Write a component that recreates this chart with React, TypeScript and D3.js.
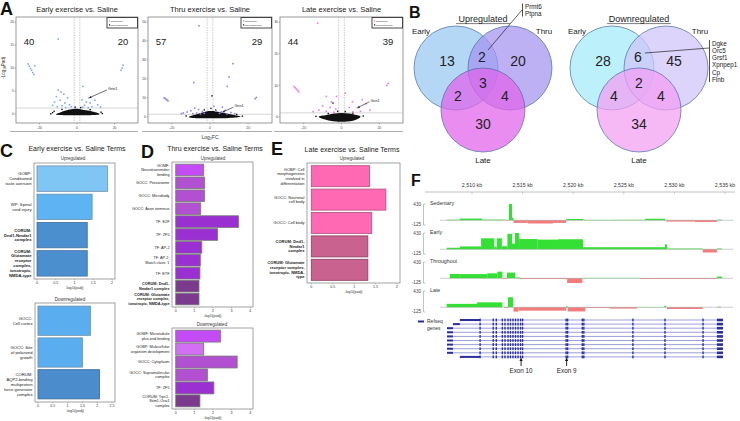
import React from "react";
import * as d3 from "d3";

const FONT = "'Liberation Sans', Arial, Helvetica, sans-serif";

// ================= Panel A : volcano plots =================
const volcanoTitles = ["Early exercise vs. Saline", "Thru exercise vs. Saline", "Late exercise vs. Saline"];
const volcanoDownCounts = [40, 57, 44];
const volcanoUpCounts = [20, 29, 39];
const volcanoYTicks = [[0, 5, 10, 15, 20], [0, 10, 20, 30, 40, 50], [0, 10, 20, 30]];
const volcanoYMax = [21.1, 52.6, 31.6];
const volcanoYMin = [-1.95, -3.3, -1.9];
const volcanoXTicks = [-20, 0, 20];
const volcanoXExtent = 32.5;
const fcCut = 1.5;
const padjLine = 1.3;

const earlySig: [number, number][] = [
  [-10, 16.3], [-26, 10.9], [-25.4, 10.4], [-24.8, 9.9], [-24.2, 9.5], [-23.6, 9.0], [-23.0, 8.6], [-22.5, 10.5],
  [24.5, 10.6], [24, 10.0], [23.5, 9.5], [3.2, 6.0],
  [-10, 5.2], [-8.5, 4.8], [-7, 4.3], [-11, 3.8], [-5, 3.5], [-9, 3.0], [-12, 2.6], [-6.5, 2.4], [-4, 2.0],
  [-8, 1.8], [-10.5, 1.6], [-3, 1.6], [-6, 1.4], [-13, 1.9],
  [2.7, 3.1], [5, 2.6], [7, 2.4], [9.5, 3.0], [11, 2.0], [4, 1.9], [8, 1.6], [6, 1.4], [3, 1.5], [6.4, 3.5], [12.5, 1.5]
];
const thruSig: [number, number][] = [
  [-5.8, 48], [-8.5, 18], [12, 28], [10, 21], [9, 16], [23.7, 9.5], [24.3, 10.2],
  [-24, 10], [-23.5, 9.6], [-23, 9.2], [-22.5, 8.8], [-22, 8.4],
  [-8, 4.5], [-6, 3.8], [-10, 3.2], [-4, 2.8], [-12, 2.5], [-7, 2.0], [-3, 1.8], [-9, 1.6], [-5, 1.5],
  [3, 3.0], [6, 2.6], [8, 3.4], [11, 2.2], [5, 1.8], [9, 1.5], [13, 1.6], [-14, 2.0], [-15, 1.6], [2, 5.5], [6.5, 5]
];
const lateSig: [number, number][] = [
  [-12.6, 29.6], [24, 10], [24.6, 10.6],
  [-25, 9.6], [-24.4, 9.2], [-23.8, 8.8], [-23.2, 8.4], [-22.6, 8.0],
  [-8, 6.5], [-2.6, 6.5], [-5.3, 4.8], [5.8, 4.8], [11, 5.5], [13, 4.2],
  [-10, 3.5], [-6, 3], [-3, 2.5], [-12, 2.2], [-8, 1.8], [4, 3], [8.4, 2.9], [10, 1.8], [15, 2.2], [6, 1.6],
  [-15, 1.7], [-4, 1.5], [2, 7.5]
];
const earlyCloud: [number, number][] = [
  [-11, 0], [-9, 0.35], [-7, 0.65], [-5, 0.9], [-3, 1.05], [-1, 1.15], [1, 1.1], [3, 0.95], [5, 0.8], [8, 0.55], [11, 0.25], [12, 0], [10, -0.2], [0, -0.25], [-10, -0.2]
];
const thruCloud: [number, number][] = [
  [-11, 0], [-8, 1], [-5, 2], [-2, 2.8], [1, 3], [4, 2.6], [8, 1.8], [12, 1], [16, 0], [10, -0.6], [0, -0.8], [-9, -0.6]
];
const lateCloud: [number, number][] = [
  [-12, 0], [-8, 0.6], [-4, 1.1], [0, 1.3], [4, 1.1], [8, 0.6], [10, 0], [6, -1.2], [0, -1.5], [-6, -1.2]
];
const earlyNs: [number, number][] = [[-13, 0.3], [-12.2, 0.6], [12.8, 0.4], [13.5, 0.1], [-8, 1.0], [7, 0.95], [-1, 1.5], [2, 1.4], [-14, 0.05]];
const thruNs: [number, number][] = [[1, 11], [-12.5, 0.4], [17, 0.3], [-3, 3.6], [3, 3.5], [0.5, 4.4], [14, 1.2]];
const lateNs: [number, number][] = [[-13.5, 0.2], [11.5, 0.3], [-2, 1.8], [2, 1.7], [-7, 1.1], [6, 1.2], [-4.5, 4.4]];
const grin1Points: [number, number][] = [[6.4, 3.5], [6.5, 2.4], [8.4, 2.9]];

// ================= Panel B : Venn counts =================
const vennUpCounts = { early: 13, earlyThru: 2, thru: 20, earlyLate: 2, all: 3, thruLate: 4, late: 30 };
const vennDownCounts = { early: 28, earlyThru: 6, thru: 45, earlyLate: 4, all: 2, thruLate: 4, late: 34 };
const vennSetNames = ["Early", "Thru", "Late"];
const upSharedGenes = ["Prmt6", "Ptpna"];
const downSharedGenes = ["Dgke", "Orc5", "Grsf1", "Xpnpep1", "Cp", "Flnb"];

// ================= Panels C, D, E : enrichment bars =================
const cUpLabels = ["GOBP:\nConditioned\ntaste aversion", "WP: Spinal\ncord injury", "CORUM:\nDnd1-Nmdar1\ncomplex", "CORUM:\nGlutamate\nreceptor\ncomplex,\nionotropic,\nNMDA-type"];
const cUpValues = [1.88, 1.47, 1.34, 1.34];
const cUpBold = [false, false, true, true];
const cDownLabels = ["GOCC:\nCell cortex", "GOCC: Site\nof polarized\ngrowth", "CORUM:\nAQP2-binding\nmultiprotein\nforce generator\ncomplex"];
const cDownValues = [1.77, 1.5, 2.08];
const cDownBold = [false, false, false];

const dUpLabels = ["GOMF:\nNeurotransmitter\nbinding", "GOCC: Peroxisome", "GOCC: Microbody", "GOCC: Axon terminus", "TF: E2F", "TF: ZF5", "TF: AP-2", "TF: AP-2;\nMatch class: 1", "TF: ETF", "CORUM: Dnd1-\nNmdar1 complex", "CORUM: Glutamate\nreceptor complex,\nionotropic, NMDA-type"];
const dUpValues = [1.5, 1.55, 1.55, 1.34, 3.37, 2.25, 1.4, 1.32, 1.3, 1.25, 1.25];
const dUpBold = [false, false, false, false, false, false, false, false, false, true, true];
const dDownLabels = ["GOMF: Microtubule\nplus-end binding", "GOBP: Multicellular\norganism development", "GOCC: Cytoplasm", "GOCC: Supramolecular\ncomplex", "TF: ZF5", "CORUM: Trpc1-\nStim1-Orai1\ncomplex"];
const dDownValues = [2.4, 1.5, 3.3, 1.7, 2.05, 1.3];
const dDownBold = [false, false, false, false, false, false];

const eUpLabels = ["GOBP: Cell\nmorphogenesis\ninvolved in\ndifferentiation", "GOCC: Neuronal\ncell body", "GOCC: Cell body", "CORUM: Dnd1-\nNmdar1\ncomplex", "CORUM: Glutamate\nreceptor complex,\nionotropic, NMDA-\ntype"];
const eUpValues = [1.36, 1.74, 1.41, 1.32, 1.32];
const eUpBold = [false, false, false, true, true];

const ticksC = [0, 0.5, 1, 1.5, 2];
const ticksCDown = [0, 0.5, 1, 1.5, 2, 2.5];
const ticksD = [0, 1, 2, 3, 4];
const ticksE = [0, 0.5, 1, 1.5, 2];

// ================= Panel F : genome browser =================
const kbTicks = [2510, 2515, 2520, 2525, 2530, 2535];
const trackNames = ["Sedentary", "Early", "Throughout", "Late"];
const covRange = [-125, 430];
const sedentaryCov: [number, number, number][] = [
  [2507.5, 2508.8, 15], [2508.8, 2511.0, 45], [2511.0, 2513.3, 18], [2513.3, 2513.6, -15], [2513.65, 2513.95, 430],
  [2513.95, 2514.1, 60], [2514.1, 2515.5, -70], [2515.5, 2518.0, -85], [2518.0, 2519.3, -70], [2519.3, 2521.0, 35],
  [2521.0, 2524.0, 10], [2524.0, 2527.1, 12], [2527.1, 2529.1, 40], [2529.2, 2532.0, -35], [2532.0, 2534.2, -45], [2534.2, 2534.7, 15]
];
const earlyCov: [number, number, number][] = [
  [2507.5, 2508.8, 40], [2508.8, 2510.9, 75], [2510.9, 2512.2, 290], [2512.2, 2512.45, 60], [2512.45, 2512.95, 290],
  [2512.95, 2513.5, 80], [2513.5, 2513.95, 410], [2513.95, 2514.25, 150], [2514.25, 2514.65, 430], [2514.65, 2516.5, 270],
  [2516.5, 2518.5, 255], [2518.5, 2520.97, 265], [2520.97, 2529.07, 55], [2529.07, 2529.27, 130], [2529.27, 2532.8, 20],
  [2532.8, 2534.2, -85], [2534.2, 2534.7, 20]
];
const throughoutCov: [number, number, number][] = [
  [2507.8, 2508.8, 115], [2508.8, 2511.5, 110], [2511.5, 2512.5, 130], [2512.5, 2513.0, 175], [2513.0, 2513.45, -20],
  [2513.45, 2514.25, 150], [2514.25, 2514.75, 20], [2514.75, 2519.4, -20], [2519.4, 2520.9, -160], [2520.9, 2526.6, 10],
  [2526.6, 2534.2, -20], [2534.2, 2534.7, 45]
];
const lateCov: [number, number, number][] = [
  [2507.5, 2510.5, 90], [2510.5, 2513.0, 130], [2513.2, 2513.55, -20], [2513.55, 2514.05, 265], [2514.1, 2514.6, -115],
  [2514.6, 2519.3, -90], [2519.3, 2519.45, 30], [2519.45, 2521.2, -110], [2521.2, 2523.6, -20], [2523.6, 2526.3, -35],
  [2526.3, 2529.0, 8], [2529.0, 2529.2, 40], [2529.27, 2532.8, -45], [2534.2, 2534.6, 15]
];
const transcriptStarts = [2508.8, 2508.12, 2507.53, 2507.53, 2507.53, 2507.53, 2507.53, 2507.53, 2507.53, 2508.8];
const transcriptUtrEnds = [2510.8, 2508.8, 2508.12, 2508.12, 2508.12, 2508.12, 2508.12, 2508.12, 2508.12, 2510.8];
const transcriptEnd = 2534.8;
const transcriptUtr3Start = 2534.2;
const sharedExons = [2510.8, 2512.1, 2512.4, 2513.0, 2513.26, 2513.56, 2513.8, 2514.05, 2514.3, 2514.55, 2514.8, 2515.0, 2519.3, 2519.45, 2520.9, 2521.05, 2525.9, 2529.07, 2532.83];
const exonMarks = [{ name: "Exon 10", kb: 2514.85 }, { name: "Exon 9", kb: 2519.35 }];

// ================= helpers =================
function MText({ x, y, lines, size, anchor = "end", lh, weight = "normal", fill = "#222" }: any) {
  const n = lines.length;
  const y0 = y - ((n - 1) * lh) / 2 + size * 0.35;
  return (
    <text fontSize={size} textAnchor={anchor} fontWeight={weight} fill={fill}>
      {lines.map((l: string, k: number) => (
        <tspan key={k} x={x} y={y0 + k * lh}>{l}</tspan>
      ))}
    </text>
  );
}

const vLeft = [16, 148, 280];
const vRight = [138, 272, 403];
const vTop = 17;
const vBottom = 123;
const sigSets = [earlySig, thruSig, lateSig];
const nsSets = [earlyNs, thruNs, lateNs];
const clouds = [earlyCloud, thruCloud, lateCloud];
const sigColors = ["#86a8f3", "#9a7cf6", "#f076f0"];
const grinOffsets = [[18, -8], [11, -5], [12, -6]];

function Volcano({ i }: { i: number }) {
  const L = vLeft[i], R = vRight[i];
  const x = d3.scaleLinear().domain([-volcanoXExtent, volcanoXExtent]).range([L, R]);
  const y = d3.scaleLinear().domain([volcanoYMin[i], volcanoYMax[i]]).range([vBottom, vTop]);
  const cloudPath = d3.line().curve(d3.curveCardinalClosed)(clouds[i].map(([a, b]) => [x(a), y(b)] as [number, number]));
  const [gx, gy] = grin1Points[i];
  const tipX = x(gx), tipY = y(gy);
  const [ox, oy] = grinOffsets[i];
  const ang = Math.atan2(tipY - (tipY + oy), tipX - (tipX + ox));
  const ah = 2.6;
  const arrowHead = [
    [tipX, tipY],
    [tipX - ah * Math.cos(ang - 0.45), tipY - ah * Math.sin(ang - 0.45)],
    [tipX - ah * Math.cos(ang + 0.45), tipY - ah * Math.sin(ang + 0.45)]
  ].map((p) => p.join(",")).join(" ");
  const cx = (L + R) / 2;
  return (
    <g>
      <text x={cx} y={12} fontSize={7.5} textAnchor="middle" fill="#222">{volcanoTitles[i]}</text>
      <rect x={L} y={vTop} width={R - L} height={vBottom - vTop} fill="white" stroke="#555" strokeWidth={0.6} />
      <line x1={x(-fcCut)} x2={x(-fcCut)} y1={vTop} y2={vBottom} stroke="#999" strokeWidth={0.5} strokeDasharray="1.5,1" />
      <line x1={x(fcCut)} x2={x(fcCut)} y1={vTop} y2={vBottom} stroke="#999" strokeWidth={0.5} strokeDasharray="1.5,1" />
      <line x1={L} x2={R} y1={y(padjLine)} y2={y(padjLine)} stroke="#aaa" strokeWidth={0.5} />
      {volcanoYTicks[i].map((t) => (
        <g key={t}>
          <line x1={L - 1.5} x2={L} y1={y(t)} y2={y(t)} stroke="#555" strokeWidth={0.4} />
          <text x={L - 2} y={y(t) + 1.2} fontSize={3.4} textAnchor="end" fill="#444">{t}</text>
        </g>
      ))}
      {cloudPath && <path d={cloudPath} fill="#111" />}
      {nsSets[i].map(([a, b], k) => (
        <rect key={k} x={x(a) - 0.7} y={y(b) - 0.7} width={1.4} height={1.4} fill="#111" />
      ))}
      {sigSets[i].map(([a, b], k) => (
        <rect key={k} x={x(a) - 0.8} y={y(b) - 0.8} width={1.6} height={1.6} fill={sigColors[i]} />
      ))}
      <text x={L + 13} y={44.5} fontSize={9.5} textAnchor="middle" fill="#222">{volcanoDownCounts[i]}</text>
      <text x={R - 15} y={44.5} fontSize={9.5} textAnchor="middle" fill="#222">{volcanoUpCounts[i]}</text>
      {/* legend */}
      <rect x={R - 31} y={17.5} width={30.5} height={10.5} fill="white" stroke="#333" strokeWidth={0.9} />
      <rect x={R - 29} y={20.3} width={1.2} height={1.2} fill={sigColors[i]} />
      <text x={R - 27} y={21.7} fontSize={2.5} fill="#333">Significant</text>
      <rect x={R - 29} y={24.3} width={1.2} height={1.2} fill="#111" />
      <text x={R - 27} y={25.7} fontSize={2.5} fill="#333">Non-significant</text>
      {/* Grin1 */}
      <line x1={tipX + ox} y1={tipY + oy} x2={tipX - 1.5 * Math.cos(ang)} y2={tipY - 1.5 * Math.sin(ang)} stroke="#111" strokeWidth={0.6} />
      <polygon points={arrowHead} fill="#111" />
      <text x={tipX + ox + 1} y={tipY + oy} fontSize={3.8} fill="#222">Grin1</text>
      {/* x axis */}
      {volcanoXTicks.map((t) => (
        <g key={t}>
          <line x1={x(t)} x2={x(t)} y1={vBottom} y2={vBottom + 1.5} stroke="#555" strokeWidth={0.4} />
          <text x={x(t)} y={129} fontSize={3.4} textAnchor="middle" fill="#444">{t}</text>
        </g>
      ))}
      <line x1={L - 6} x2={R} y1={131.5} y2={131.5} stroke="#777" strokeWidth={0.6} />
    </g>
  );
}

// ================= bar chart =================
function BarChart({ labels, values, bold, colors, strokes, x0, x1, top, bottom, domain, ticks, lh, size, pad }: any) {
  const x = d3.scaleLinear().domain(domain).range([x0, x1]);
  const y = d3.scaleBand<number>().domain(values.map((_: number, k: number) => k)).range([top + 1.5, bottom - 1.5]).paddingInner(pad).paddingOuter(0.05);
  return (
    <g>
      <rect x={x0} y={top} width={x1 - x0} height={bottom - top} fill="white" stroke="#666" strokeWidth={0.6} />
      {values.map((v: number, k: number) => (
        <g key={k}>
          <rect x={x(0)} y={y(k)} width={x(v) - x(0)} height={y.bandwidth()} fill={colors[k]} stroke={strokes[k]} strokeWidth={0.8} />
          <MText x={x0 - 2.5} y={(y(k) as number) + y.bandwidth() / 2} lines={labels[k].split("\n")} size={size} lh={lh} weight={bold[k] ? "bold" : "normal"} />
        </g>
      ))}
      {ticks.map((t: number) => (
        <g key={t}>
          <line x1={x(t)} x2={x(t)} y1={bottom} y2={bottom + 1.3} stroke="#666" strokeWidth={0.4} />
          <text x={x(t)} y={bottom + 4.8} fontSize={3.6} textAnchor="middle" fill="#333">{t}</text>
        </g>
      ))}
      <text x={(x0 + x1) / 2} y={bottom + 9.5} fontSize={3.6} textAnchor="middle" fill="#333">
        -log<tspan fontSize={2.6} dy={0.8}>10</tspan><tspan dy={-0.8}>(padj)</tspan>
      </text>
    </g>
  );
}

// ================= Venn =================
function Venn({ cx0, title, counts, circleFills, genes, geneX, geneY, lineFrom, lineTo, bar }: any) {
  const r = 42;
  const centers = [[cx0 - 27, 68], [cx0 + 27, 68], [cx0, 110]];
  const pos = {
    early: [cx0 - 36, 61], earlyThru: [cx0 - 1, 57], thru: [cx0 + 35, 61],
    earlyLate: [cx0 - 25, 96], all: [cx0, 83], thruLate: [cx0 + 22, 96], late: [cx0, 124]
  } as any;
  const nameLen = title.length * 4.9;
  return (
    <g>
      <text x={cx0} y={22} fontSize={9} textAnchor="middle" fill="#222">{title}</text>
      <line x1={cx0 - nameLen / 2} x2={cx0 + nameLen / 2} y1={23.6} y2={23.6} stroke="#222" strokeWidth={0.6} />
      {centers.map(([a, b], k) => (
        <circle key={k} cx={a} cy={b} r={r} fill={circleFills[k]} fillOpacity={0.72} stroke="#4a6aa5" strokeWidth={0.7} />
      ))}
      {Object.keys(pos).map((k) => (
        <text key={k} x={pos[k][0]} y={pos[k][1] + 5} fontSize={14} textAnchor="middle" fill="#222">{counts[k]}</text>
      ))}
      <text x={cx0 - 62} y={34} fontSize={8} textAnchor="middle" fill="#222">{vennSetNames[0]}</text>
      <text x={cx0 + 61} y={34} fontSize={8} textAnchor="middle" fill="#222">{vennSetNames[1]}</text>
      <text x={cx0} y={163} fontSize={8} textAnchor="middle" fill="#222">{vennSetNames[2]}</text>
      <line x1={lineFrom[0]} y1={lineFrom[1]} x2={lineTo[0]} y2={lineTo[1]} stroke="#222" strokeWidth={0.7} />
      <line x1={bar[0]} x2={bar[0]} y1={bar[1]} y2={bar[2]} stroke="#222" strokeWidth={0.8} />
      {genes.map((g: string, k: number) => (
        <text key={g} x={geneX} y={geneY + k * 7.3} fontSize={6.3} fill="#222">{g}</text>
      ))}
    </g>
  );
}

// ================= Genome =================
function Genome() {
  const x = d3.scaleLinear().domain([2510, 2535]).range([472, 725]);
  const tops = [204, 233, 262, 291];
  const covs = [sedentaryCov, earlyCov, throughoutCov, lateCov];
  const geneY0 = 320;
  return (
    <g>
      <line x1={425} x2={735} y1={192} y2={192} stroke="#999" strokeWidth={0.6} />
      {kbTicks.map((t) => (
        <g key={t}>
          <line x1={x(t)} x2={x(t)} y1={192} y2={194} stroke="#999" strokeWidth={0.5} />
          <text x={x(t)} y={187} fontSize={5.3} textAnchor="middle" fill="#333">{d3.format(",")(t)} kb</text>
        </g>
      ))}
      {tops.map((top, i) => {
        const y = d3.scaleLinear().domain(covRange).range([top + 21, top]);
        return (
          <g key={i}>
            <text x={430} y={top + 1} fontSize={5.3} fill="#333">{trackNames[i]}</text>
            <text x={421} y={top + 2} fontSize={4.6} textAnchor="end" fill="#444">{covRange[1]}</text>
            <text x={421} y={top + 22} fontSize={4.6} textAnchor="end" fill="#444">{covRange[0]}</text>
            <line x1={423.5} x2={423.5} y1={top} y2={top + 21} stroke="#888" strokeWidth={0.5} />
            <line x1={423.5} x2={425.5} y1={top} y2={top} stroke="#888" strokeWidth={0.5} />
            <line x1={423.5} x2={425.5} y1={top + 21} y2={top + 21} stroke="#888" strokeWidth={0.5} />
            {covs[i].map(([s, e, v], k) => {
              const vv = Math.max(covRange[0], Math.min(covRange[1], v));
              return (
                <rect key={k} x={x(s)} width={Math.max(0.6, x(e) - x(s))} y={Math.min(y(0), y(vv))} height={Math.abs(y(vv) - y(0))} fill={v >= 0 ? "#33e033" : "#f27c7c"} />
              );
            })}
            <line x1={440} x2={733} y1={y(0)} y2={y(0)} stroke="#999" strokeWidth={0.5} />
          </g>
        );
      })}
      <rect x={418} y={320.5} width={6} height={2} fill="#2b2f9e" />
      <text x={427} y={323} fontSize={5} fill="#333">Refseq</text>
      <text x={427} y={330} fontSize={5} fill="#333">genes</text>
      {transcriptStarts.map((s, k) => {
        const yy = geneY0 + k * 4.1;
        return (
          <g key={k}>
            <line x1={x(s)} x2={x(transcriptEnd)} y1={yy} y2={yy} stroke="#3a3fb0" strokeWidth={0.5} />
            <rect x={x(s)} width={x(transcriptUtrEnds[k]) - x(s)} y={yy - 1} height={2} fill="#2b2f9e" />
            <rect x={x(transcriptUtr3Start)} width={x(transcriptEnd) - x(transcriptUtr3Start)} y={yy - 1.3} height={2.6} fill="#2b2f9e" />
            {sharedExons.map((e, j) => (
              <rect key={j} x={x(e) - 0.7} width={1.4} y={yy - 1.4} height={2.8} fill="#2b2f9e" />
            ))}
          </g>
        );
      })}
      {exonMarks.map((m) => (
        <g key={m.name}>
          <line x1={x(m.kb)} x2={x(m.kb)} y1={366} y2={360} stroke="#111" strokeWidth={0.9} />
          <polygon points={`${x(m.kb)},${357.5} ${x(m.kb) - 1.6},${361} ${x(m.kb) + 1.6},${361}`} fill="#111" />
          <text x={x(m.kb)} y={373} fontSize={6.3} textAnchor="middle" fill="#222">{m.name}</text>
        </g>
      ))}
    </g>
  );
}

export default function App() {
  return (
    <svg width={740} height={421} style={{ position: "absolute", left: 0, top: 0, background: "white" }} fontFamily={FONT}>
      <rect width={740} height={421} fill="white" />
      {/* Panel letters */}
      <text x={0} y={15} fontSize={18} fontWeight="bold" fill="#111">A</text>
      <text x={409} y={18} fontSize={16} fontWeight="bold" fill="#111">B</text>
      <text x={0} y={157} fontSize={18} fontWeight="bold" fill="#111">C</text>
      <text x={141} y={158} fontSize={18} fontWeight="bold" fill="#111">D</text>
      <text x={271} y={155} fontSize={18} fontWeight="bold" fill="#111">E</text>
      <text x={411} y={186} fontSize={16} fontWeight="bold" fill="#111">F</text>

      {/* Panel A */}
      {[0, 1, 2].map((i) => <Volcano key={i} i={i} />)}
      <text transform="translate(5,68) rotate(-90)" fontSize={4.5} textAnchor="middle" fill="#333">
        -Log<tspan fontSize={3.2} dy={1}>10</tspan><tspan dy={-1}>Padj</tspan>
      </text>
      <text x={210} y={139} fontSize={5} textAnchor="middle" fill="#333">
        Log<tspan fontSize={3.6} dy={1}>2</tspan><tspan dy={-1}>FC</tspan>
      </text>

      {/* Panel B */}
      <Venn cx0={483} title="Upregulated" counts={vennUpCounts} circleFills={["#97c8f3", "#a393f0", "#e062ea"]}
        genes={upSharedGenes} geneX={525} geneY={8.5} lineFrom={[522, 10]} lineTo={[488, 50]} bar={[522.5, 3.5, 16.5]} />
      <Venn cx0={639} title="Downregulated" counts={vennDownCounts} circleFills={["#a2ecfa", "#cfc4f9", "#f49cf2"]}
        genes={downSharedGenes} geneX={712} geneY={45.5} lineFrom={[645, 53]} lineTo={[709, 48]} bar={[709.5, 40, 82]} />

      {/* Panel C */}
      <text x={77} y={151} fontSize={7} textAnchor="middle" fill="#222">Early exercise vs. Saline Terms</text>
      <text x={73} y={160} fontSize={4.5} textAnchor="middle" fill="#333">Upregulated</text>
      <BarChart labels={cUpLabels} values={cUpValues} bold={cUpBold}
        colors={["#80c6f5", "#5eb4f2", "#4c8fcf", "#4c8fcf"]} strokes={["#6f8fa8", "#6f8fa8", "#3f6f9f", "#3f6f9f"]}
        x0={34} x1={115} top={163} bottom={279} domain={[-0.08, 2.08]} ticks={ticksC} lh={4.9} size={4.2} pad={0.1} />
      <text x={70} y={300.5} fontSize={4.5} textAnchor="middle" fill="#333">Downregulated</text>
      <BarChart labels={cDownLabels} values={cDownValues} bold={cDownBold}
        colors={["#5aaef0", "#5aaef0", "#4a8ccc"]} strokes={["#6f8fa8", "#6f8fa8", "#3a6a9a"]}
        x0={35} x1={115} top={303} bottom={402} domain={[-0.1, 2.6]} ticks={ticksCDown} lh={4.9} size={4.2} pad={0.08} />

      {/* Panel D */}
      <text x={215} y={151} fontSize={7} textAnchor="middle" fill="#222">Thru exercise vs. Saline Terms</text>
      <text x={213} y={160} fontSize={4.5} textAnchor="middle" fill="#333">Upregulated</text>
      <BarChart labels={dUpLabels} values={dUpValues} bold={dUpBold}
        colors={["#c44cf5", "#b150d0", "#b150d0", "#b150d0", "#9b30d2", "#9b30d2", "#9b30d2", "#9b30d2", "#9b30d2", "#7b3a8e", "#7b3a8e"]}
        strokes={Array(11).fill("#777")}
        x0={172} x1={253} top={162} bottom={307} domain={[-0.2, 4.15]} ticks={ticksD} lh={4.3} size={3.8} pad={0.1} />
      <text x={212} y={326} fontSize={4.5} textAnchor="middle" fill="#333">Downregulated</text>
      <BarChart labels={dDownLabels} values={dDownValues} bold={dDownBold}
        colors={["#c44cf5", "#d26ff2", "#b150d0", "#b150d0", "#9b30d2", "#7b3a8e"]}
        strokes={Array(6).fill("#777")}
        x0={172} x1={253} top={328} bottom={409} domain={[-0.2, 4.15]} ticks={ticksD} lh={4.3} size={3.8} pad={0.08} />

      {/* Panel E */}
      <text x={352} y={152} fontSize={7} textAnchor="middle" fill="#222">Late exercise vs. Saline Terms</text>
      <text x={352} y={160} fontSize={4.5} textAnchor="middle" fill="#333">Upregulated</text>
      <BarChart labels={eUpLabels} values={eUpValues} bold={eUpBold}
        colors={["#ff69b4", "#ff69b4", "#ff69b4", "#c9628f", "#c9628f"]}
        strokes={["#b0507e", "#b0507e", "#b0507e", "#8a3e62", "#8a3e62"]}
        x0={307} x1={400} top={163} bottom={283} domain={[-0.1, 2.07]} ticks={ticksE} lh={4.6} size={4.0} pad={0.1} />

      {/* Panel F */}
      <Genome />
    </svg>
  );
}
